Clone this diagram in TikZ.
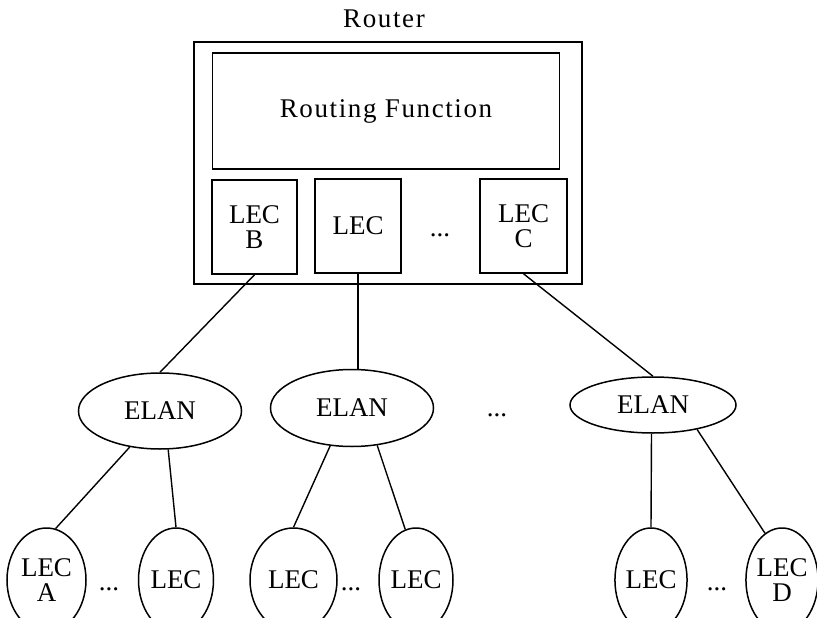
\documentclass[tikz,border=0pt]{standalone}
\usepackage{fontspec}
\setmainfont{Liberation Serif}
\newfontfamily\widefont[LetterSpace=6]{Liberation Serif}
\usetikzlibrary{shapes.geometric}
\begin{document}
\begin{tikzpicture}[x=1pt,y=-1pt, line width=1.5pt,
  txt/.style={font=\fontsize{27}{25}\selectfont},
  box/.style={draw, rectangle, inner sep=0pt, align=center, txt},
  elan/.style={draw, ellipse, inner sep=0pt, txt},
  lecnode/.style={draw, ellipse, inner sep=0pt, align=center, minimum height=104pt, txt},
  dots/.style={inner sep=0pt, anchor=base, txt},
  link/.style={draw, line width=1.4pt}]
\useasboundingbox (0,0) rectangle (817,618);
% Router
\node[inner sep=0pt, font=\widefont\fontsize{27}{25}\selectfont] (routerlabel) at (384,19) {Router};
\node[box, minimum width=388pt, minimum height=242pt] (router) at (388,163) {};
\node[box, minimum width=347pt, minimum height=116pt, font=\widefont\fontsize{27}{25}\selectfont] (routing) at (386,111) {Routing Function};
\node[box, minimum width=85pt, minimum height=94pt] (lecb) at (254.5,227) {LEC\\B};
\node[box, minimum width=86pt, minimum height=94pt] (lecm) at (358,226) {LEC};
\node[box, minimum width=87pt, minimum height=94pt] (lecc) at (523.5,226) {LEC\\C};
\node[dots] (rdots) at (440,236) {...};
% ELANs
\node[elan, minimum width=163pt, minimum height=76pt] (elan1) at (160,411) {ELAN};
\node[elan, minimum width=163pt, minimum height=77pt] (elan2) at (352,408) {ELAN};
\node[elan, minimum width=166pt, minimum height=56pt] (elan3) at (653,405) {ELAN};
\node[dots] (edots) at (497,416) {...};
% bottom LECs
\node[lecnode, minimum width=79pt] (leca) at (46.5,580) {LEC\\A};
\node[lecnode, minimum width=75pt] (lec2) at (176,580) {LEC};
\node[lecnode, minimum width=87pt] (lec3) at (293.5,580) {LEC};
\node[lecnode, minimum width=74pt] (lec4) at (416,580) {LEC};
\node[lecnode, minimum width=68pt] (lec5) at (651,580) {LEC};
\node[lecnode, minimum width=72pt] (lecd) at (782,580) {LEC\\D};
\node[dots] (bdots1) at (109,590) {...};
\node[dots] (bdots2) at (351,590) {...};
\node[dots] (bdots3) at (717,590) {...};
% links
\draw[link] (lecb.south) -- (elan1.north);
\draw[link] (lecm.south) -- (lecm.south |- elan2.north);
\draw[link] (lecc.south) -- (elan3.north);
\draw[link] (elan1.230) -- (leca.80);
\draw[link] (elan1.282) -- (lec2.90);
\draw[link] (elan2.240) -- (lec3.90);
\draw[link] (elan2.304) -- (lec4.102);
\draw[link] (elan3.267) -- (lec5.90);
\draw[link] (elan3.331) -- (lecd.110);
\end{tikzpicture}
\end{document}
